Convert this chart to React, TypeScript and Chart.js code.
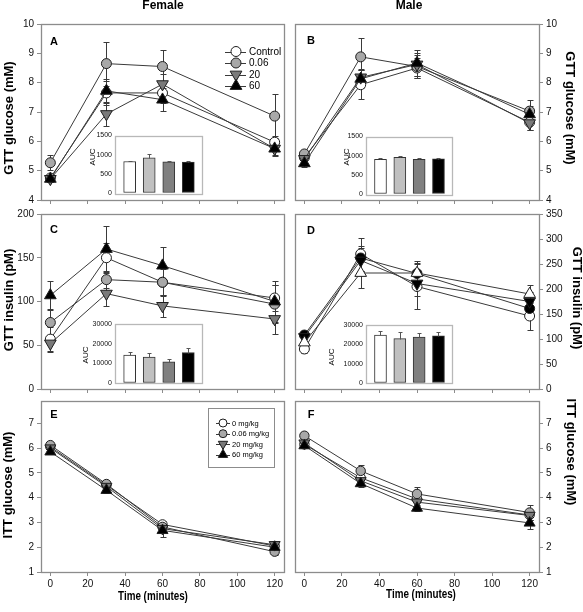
import React, { useEffect, useRef } from "react";
import { Chart, registerables } from "chart.js";
Chart.register(...registerables);

const W = 583;
const H = 612;
const FONT = "'Liberation Sans', Arial, sans-serif";
Chart.defaults.font.family = FONT;

// ---------- data ----------
const times = [0, 30, 60, 120];
const gttGroups = ["Control", "0.06", "20", "60"];
const ittGroups = ["0 mg/kg", "0.06 mg/kg", "20 mg/kg", "60 mg/kg"];

// A: female GTT glucose (mM)
const femGlucose = [
  [4.75, 7.65, 7.65, 5.97],
  [5.27, 8.65, 8.55, 6.86],
  [4.72, 6.93, 7.95, 5.75],
  [4.72, 7.72, 7.42, 5.75],
];
const femGlucoseErr = [
  [0.1, 0.4, 0.35, 0.2],
  [0.25, 0.75, 0.55, 0.75],
  [0.12, 0.4, 0.35, 0.2],
  [0.1, 0.4, 0.4, 0.25],
];
// B: male GTT glucose (mM)
const maleGlucose = [
  [5.45, 7.93, 8.5, 6.65],
  [5.57, 8.88, 8.55, 7.03],
  [5.4, 8.18, 8.62, 6.62],
  [5.25, 8.13, 8.67, 6.92],
];
const maleGlucoseErr = [
  [0.15, 0.5, 0.35, 0.25],
  [0.15, 0.65, 0.4, 0.38],
  [0.12, 0.3, 0.4, 0.25],
  [0.12, 0.3, 0.45, 0.3],
];
// C: female GTT insulin (pM)
const femInsulin = [
  [57, 150, 122, 104],
  [76, 125, 122, 97],
  [52, 109, 95, 80],
  [107, 160, 141, 100],
];
const femInsulinErr = [
  [14, 17, 16, 15],
  [14, 10, 15, 22],
  [10, 14, 13, 17],
  [16, 26, 21, 23],
];
// D: male GTT insulin (pM)
const maleInsulin = [
  [80, 270, 205, 146],
  [108, 262, 231, 161],
  [104, 257, 211, 175],
  [93, 232, 232, 190],
];
const maleInsulinErr = [
  [8, 33, 45, 28],
  [8, 25, 25, 20],
  [7, 25, 25, 20],
  [8, 29, 20, 18],
];
// E: female ITT glucose (mM)
const femItt = [
  [6.05, 4.5, 2.92, 2.05],
  [6.12, 4.55, 2.82, 1.82],
  [6.0, 4.45, 2.75, 2.1],
  [5.85, 4.3, 2.68, 2.0],
];
const femIttErr = [
  [0.12, 0.15, 0.15, 0.1],
  [0.12, 0.18, 0.15, 0.12],
  [0.1, 0.15, 0.15, 0.1],
  [0.1, 0.12, 0.25, 0.12],
];
// F: male ITT glucose (mM)
const maleItt = [
  [6.15, 4.8, 3.95, 3.3],
  [6.5, 5.08, 4.15, 3.4],
  [6.2, 4.68, 3.82, 3.28],
  [6.1, 4.57, 3.58, 2.98],
];
const maleIttErr = [
  [0.1, 0.15, 0.15, 0.2],
  [0.12, 0.22, 0.27, 0.3],
  [0.1, 0.15, 0.15, 0.2],
  [0.1, 0.15, 0.12, 0.25],
];
// AUC insets
const aucFemGlucose = [822, 920, 815, 808];
const aucFemGlucoseErr = [20, 90, 20, 25];
const aucMaleGlucose = [907, 955, 907, 915];
const aucMaleGlucoseErr = [20, 25, 25, 30];
const aucFemInsulin = [14200, 13150, 10800, 15500];
const aucFemInsulinErr = [1700, 2000, 1350, 2200];
const aucMaleInsulin = [24850, 22950, 23800, 24350];
const aucMaleInsulinErr = [2000, 3200, 1900, 2200];

// ---------- styles ----------
type Mk = { shape: "circle" | "up" | "down"; fill: string };
const stdMarkers: Mk[] = [
  { shape: "circle", fill: "#ffffff" },
  { shape: "circle", fill: "#a8a8a8" },
  { shape: "down", fill: "#7a7a7a" },
  { shape: "up", fill: "#000000" },
];
const altMarkers: Mk[] = [
  { shape: "circle", fill: "#ffffff" },
  { shape: "circle", fill: "#000000" },
  { shape: "down", fill: "#000000" },
  { shape: "up", fill: "#ffffff" },
];
const barFills = ["#ffffff", "#c0c0c0", "#808080", "#000000"];
const FRAME = "#8c8c8c";
const INK = "#1e1e1e";

type TextItem = { t: string; x: number; y: number; rot?: number; font: string; sx?: number };

function drawMarker(ctx: CanvasRenderingContext2D, m: Mk, x: number, y: number, r: number) {
  ctx.beginPath();
  if (m.shape === "circle") {
    ctx.arc(x, y, r, 0, Math.PI * 2);
  } else {
    const R = r * 1.35;
    let a = m.shape === "up" ? 0 : Math.PI;
    for (let k = 0; k < 3; k++) {
      const px = x + Math.sin(a) * R;
      const py = y - Math.cos(a) * R;
      if (k === 0) ctx.moveTo(px, py);
      else ctx.lineTo(px, py);
      a += (2 * Math.PI) / 3;
    }
    ctx.closePath();
  }
  ctx.fillStyle = m.fill;
  ctx.fill();
  ctx.strokeStyle = INK;
  ctx.lineWidth = 1;
  ctx.stroke();
}

function textPlugin(items: TextItem[]) {
  return {
    id: "texts",
    afterDraw(chart: any) {
      const ctx: CanvasRenderingContext2D = chart.ctx;
      items.forEach((it) => {
        ctx.save();
        ctx.translate(it.x, it.y);
        if (it.rot) ctx.rotate((it.rot * Math.PI) / 180);
        if (it.sx) ctx.scale(it.sx, 1);
        ctx.font = it.font;
        ctx.fillStyle = "#000";
        ctx.textAlign = "center";
        ctx.textBaseline = "middle";
        ctx.fillText(it.t, 0, 0);
        ctx.restore();
      });
    },
  };
}

const framePlugin = (color: string) => ({
  id: "frame",
  beforeDatasetsDraw(chart: any) {
    const a = chart.chartArea;
    const ctx: CanvasRenderingContext2D = chart.ctx;
    ctx.save();
    ctx.strokeStyle = color;
    ctx.lineWidth = 1.3;
    ctx.strokeRect(Math.round(a.left) + 0.5, Math.round(a.top) + 0.5, Math.round(a.right - a.left), Math.round(a.bottom - a.top));
    ctx.restore();
  },
});

const errorPlugin = {
  id: "errs",
  beforeDatasetsDraw(chart: any) {
    const ctx: CanvasRenderingContext2D = chart.ctx;
    const ys = chart.scales.y;
    ctx.save();
    ctx.strokeStyle = "#3a3a3a";
    ctx.lineWidth = 1;
    chart.data.datasets.forEach((ds: any, i: number) => {
      const meta = chart.getDatasetMeta(i);
      ds.data.forEach((pt: any, j: number) => {
        const e = ds.errors[j];
        const x = Math.round(meta.data[j].x) + 0.5;
        const y1 = Math.round(ys.getPixelForValue(pt.y + e)) + 0.5;
        const y2 = Math.round(ys.getPixelForValue(pt.y - e)) + 0.5;
        ctx.beginPath();
        ctx.moveTo(x, y1);
        ctx.lineTo(x, y2);
        ctx.moveTo(x - 3, y1);
        ctx.lineTo(x + 3, y1);
        ctx.moveTo(x - 3, y2);
        ctx.lineTo(x + 3, y2);
        ctx.stroke();
      });
    });
    ctx.restore();
  },
};

type LegendCfg = {
  names: string[];
  markers: Mk[];
  lx0: number;
  lx1: number;
  mx: number;
  tx: number;
  ys: number[];
  font: string;
  r: number;
  box?: [number, number, number, number];
};
function legendPlugin(L: LegendCfg) {
  return {
    id: "lgd",
    afterDraw(chart: any) {
      const ctx: CanvasRenderingContext2D = chart.ctx;
      ctx.save();
      if (L.box) {
        const [l, t, r, b] = L.box;
        ctx.fillStyle = "#fff";
        ctx.fillRect(l, t, r - l, b - t);
        ctx.strokeStyle = FRAME;
        ctx.lineWidth = 1;
        ctx.strokeRect(l + 0.5, t + 0.5, r - l, b - t);
      }
      L.names.forEach((n, i) => {
        const y = L.ys[i];
        ctx.strokeStyle = "#3a3a3a";
        ctx.lineWidth = 1;
        ctx.beginPath();
        ctx.moveTo(L.lx0, Math.round(y) + 0.5);
        ctx.lineTo(L.lx1, Math.round(y) + 0.5);
        ctx.stroke();
        drawMarker(ctx, L.markers[i], L.mx, y, L.r);
        ctx.fillStyle = "#000";
        ctx.font = L.font;
        ctx.textAlign = "left";
        ctx.textBaseline = "middle";
        ctx.fillText(n, L.tx, y + 0.5);
      });
      ctx.restore();
    },
  };
}

type Panel = {
  area: [number, number, number, number];
  yMin: number;
  yMax: number;
  yStep: number;
  yRight: boolean;
  xLabels: boolean;
  values: number[][];
  errors: number[][];
  names: string[];
  markers: Mk[];
  r: number;
  texts: TextItem[];
  legend?: LegendCfg;
};

const TICKFONT = { size: 10, family: FONT };
const titleFont = `bold 12px ${FONT}`;
const yTitleFont = `bold 13px ${FONT}`;
const letterFont = `bold 11px ${FONT}`;

function mainChart(p: Panel): any {
  const [l, t, r, b] = p.area;
  const xH = 22;
  const yW = p.yRight ? 44 : 41;
  const padding = p.yRight
    ? { left: l, right: W - r - yW, top: t, bottom: H - b - xH }
    : { left: l - yW, right: W - r, top: t, bottom: H - b - xH };
  const datasets = p.values.map((vals, i) => {
    const m = p.markers[i];
    return {
      label: p.names[i],
      data: times.map((x, j) => ({ x, y: vals[j] })),
      errors: p.errors[i],
      borderColor: "#3a3a3a",
      borderWidth: 1,
      pointStyle: m.shape === "circle" ? "circle" : "triangle",
      pointRotation: m.shape === "down" ? 180 : 0,
      pointRadius: m.shape === "circle" ? p.r : p.r * 1.35,
      pointBackgroundColor: m.fill,
      pointBorderColor: INK,
      pointBorderWidth: 1,
      order: 3 - i,
      tension: 0,
      fill: false,
    };
  });
  const plugins: any[] = [framePlugin(FRAME), errorPlugin, textPlugin(p.texts)];
  if (p.legend) plugins.push(legendPlugin(p.legend));
  const grid = { display: true, drawOnChartArea: false, drawTicks: true, tickLength: 4, color: FRAME, lineWidth: 1 };
  return {
    type: "line",
    data: { datasets },
    plugins,
    options: {
      animation: false,
      responsive: false,
      events: [],
      layout: { padding },
      plugins: { legend: { display: false }, tooltip: { enabled: false } },
      scales: {
        x: {
          type: "linear",
          min: -5,
          max: 125,
          ticks: { stepSize: 20, includeBounds: false, display: p.xLabels, font: TICKFONT, color: "#111", padding: 2, maxRotation: 0, autoSkip: false },
          grid,
          border: { display: false },
          afterFit: (s: any) => {
            s.height = xH;
          },
        },
        y: {
          type: "linear",
          position: p.yRight ? "right" : "left",
          min: p.yMin,
          max: p.yMax,
          ticks: { stepSize: p.yStep, includeBounds: false, font: TICKFONT, color: "#111", padding: 3 },
          grid,
          border: { display: false },
          afterFit: (s: any) => {
            s.width = yW;
          },
        },
      },
    },
  };
}

type Inset = {
  area: [number, number, number, number];
  values: number[];
  errors: number[];
  max: number;
  step: number;
  auc: [number, number];
};

function insetChart(p: Inset): any {
  const [l, t, r, b] = p.area;
  const yW = 30;
  const bgPlugin = {
    id: "bg",
    beforeDraw(chart: any) {
      const a = chart.chartArea;
      chart.ctx.save();
      chart.ctx.fillStyle = "#fff";
      chart.ctx.fillRect(a.left, a.top, a.right - a.left, a.bottom - a.top);
      chart.ctx.restore();
    },
  };
  const barErr = {
    id: "barErr",
    afterDatasetsDraw(chart: any) {
      const ctx: CanvasRenderingContext2D = chart.ctx;
      const ys = chart.scales.y;
      const meta = chart.getDatasetMeta(0);
      ctx.save();
      ctx.strokeStyle = "#555";
      ctx.lineWidth = 1;
      p.values.forEach((v, i) => {
        const x = Math.round(meta.data[i].x) + 0.5;
        const y1 = Math.round(ys.getPixelForValue(v)) + 0.5;
        const y2 = Math.round(ys.getPixelForValue(v + p.errors[i])) + 0.5;
        ctx.beginPath();
        ctx.moveTo(x, y1);
        ctx.lineTo(x, y2);
        ctx.moveTo(x - 2, y2);
        ctx.lineTo(x + 2, y2);
        ctx.stroke();
      });
      ctx.restore();
    },
  };
  return {
    type: "bar",
    data: {
      datasets: [
        {
          label: "AUC",
          data: p.values.map((v, i) => ({ x: i, y: v })),
          backgroundColor: barFills,
          borderColor: "#333",
          borderWidth: 1,
          borderSkipped: false,
          barThickness: 12,
        },
      ],
    },
    plugins: [bgPlugin, framePlugin("#b8b8b8"), barErr, textPlugin([{ t: "AUC", x: p.auc[0], y: p.auc[1], rot: -90, font: `8px ${FONT}` }])],
    options: {
      animation: false,
      responsive: false,
      events: [],
      layout: { padding: { left: l - yW, right: W - r, top: t, bottom: H - b } },
      plugins: { legend: { display: false }, tooltip: { enabled: false } },
      scales: {
        x: { type: "linear", display: false, min: -0.75, max: 3.7, offset: false, grid: { offset: false } },
        y: {
          min: 0,
          max: p.max,
          ticks: { stepSize: p.step, font: { size: 7, family: FONT }, color: "#111", padding: 3, callback: (v: any) => String(v) },
          grid: { display: true, drawOnChartArea: false, drawTicks: false },
          border: { display: false },
          afterFit: (s: any) => {
            s.width = yW;
          },
        },
      },
    },
  };
}

const panels: Panel[] = [
  {
    area: [41, 24, 284, 200],
    yMin: 4, yMax: 10, yStep: 1, yRight: false, xLabels: false,
    values: femGlucose, errors: femGlucoseErr, names: gttGroups, markers: stdMarkers, r: 5,
    texts: [
      { t: "Female", x: 163, y: 6, font: titleFont },
      { t: "A", x: 54, y: 41.5, font: letterFont },
      { t: "GTT glucose (mM)", x: 9, y: 118, rot: -90, font: yTitleFont },
    ],
    legend: { names: gttGroups, markers: stdMarkers, lx0: 225, lx1: 246, mx: 236, tx: 249, ys: [51.5, 63, 74.5, 86], font: `10px ${FONT}`, r: 5 },
  },
  {
    area: [295, 24, 539, 200],
    yMin: 4, yMax: 10, yStep: 1, yRight: true, xLabels: false,
    values: maleGlucose, errors: maleGlucoseErr, names: gttGroups, markers: stdMarkers, r: 5,
    texts: [
      { t: "Male", x: 409, y: 6, font: titleFont },
      { t: "B", x: 311, y: 41, font: letterFont },
      { t: "GTT glucose (mM)", x: 570, y: 108, rot: 90, font: yTitleFont },
    ],
  },
  {
    area: [41, 214, 284, 389],
    yMin: 0, yMax: 200, yStep: 50, yRight: false, xLabels: false,
    values: femInsulin, errors: femInsulinErr, names: gttGroups, markers: stdMarkers, r: 5,
    texts: [
      { t: "C", x: 54, y: 230, font: letterFont },
      { t: "GTT insulin (pM)", x: 9, y: 300, rot: -90, font: yTitleFont },
    ],
  },
  {
    area: [295, 214, 539, 389],
    yMin: 0, yMax: 350, yStep: 50, yRight: true, xLabels: false,
    values: maleInsulin, errors: maleInsulinErr, names: gttGroups, markers: altMarkers, r: 5,
    texts: [
      { t: "D", x: 311, y: 230.5, font: letterFont },
      { t: "GTT insulin (pM)", x: 577, y: 298, rot: 90, font: yTitleFont },
    ],
  },
  {
    area: [41, 401, 284, 572],
    yMin: 1, yMax: 7.9, yStep: 1, yRight: false, xLabels: true,
    values: femItt, errors: femIttErr, names: ittGroups, markers: stdMarkers, r: 4.7,
    texts: [
      { t: "E", x: 54, y: 415, font: letterFont },
      { t: "ITT glucose (mM)", x: 8, y: 485, rot: -90, font: yTitleFont },
      { t: "Time (minutes)", x: 153, y: 597, font: titleFont, sx: 0.82 },
    ],
    legend: { names: ittGroups, markers: stdMarkers, lx0: 216, lx1: 230, mx: 223, tx: 232, ys: [423, 433.7, 444, 454.7], font: `7.5px ${FONT}`, r: 4, box: [208, 408, 274, 467] },
  },
  {
    area: [295, 401, 539, 572],
    yMin: 1, yMax: 7.9, yStep: 1, yRight: true, xLabels: true,
    values: maleItt, errors: maleIttErr, names: ittGroups, markers: stdMarkers, r: 4.7,
    texts: [
      { t: "F", x: 311, y: 415, font: letterFont },
      { t: "ITT glucose (mM)", x: 571, y: 452, rot: 90, font: yTitleFont },
      { t: "Time (minutes)", x: 421, y: 595, font: titleFont, sx: 0.82 },
    ],
  },
];

const insets: Inset[] = [
  { area: [115, 135.5, 202, 193], values: aucFemGlucose, errors: aucFemGlucoseErr, max: 1500, step: 500, auc: [93, 157] },
  { area: [366, 136.5, 452, 194], values: aucMaleGlucose, errors: aucMaleGlucoseErr, max: 1500, step: 500, auc: [347, 157] },
  { area: [115, 324, 202, 383], values: aucFemInsulin, errors: aucFemInsulinErr, max: 30000, step: 10000, auc: [86, 355] },
  { area: [366, 325, 452, 383], values: aucMaleInsulin, errors: aucMaleInsulinErr, max: 30000, step: 10000, auc: [332, 357] },
];

function ChartCanvas({ make }: { make: () => any }) {
  const ref = useRef<HTMLCanvasElement>(null);
  useEffect(() => {
    const c = new Chart(ref.current as HTMLCanvasElement, make());
    return () => c.destroy();
  }, []);
  return (
    <canvas
      ref={ref}
      width={W}
      height={H}
      style={{ position: "absolute", left: 0, top: 0, width: W, height: H }}
    />
  );
}

export default function App() {
  return (
    <div style={{ position: "absolute", left: 0, top: 0, width: W, height: H, background: "#fff", overflow: "hidden" }}>
      {panels.map((p, i) => (
        <ChartCanvas key={"p" + i} make={() => mainChart(p)} />
      ))}
      {insets.map((p, i) => (
        <ChartCanvas key={"i" + i} make={() => insetChart(p)} />
      ))}
    </div>
  );
}
